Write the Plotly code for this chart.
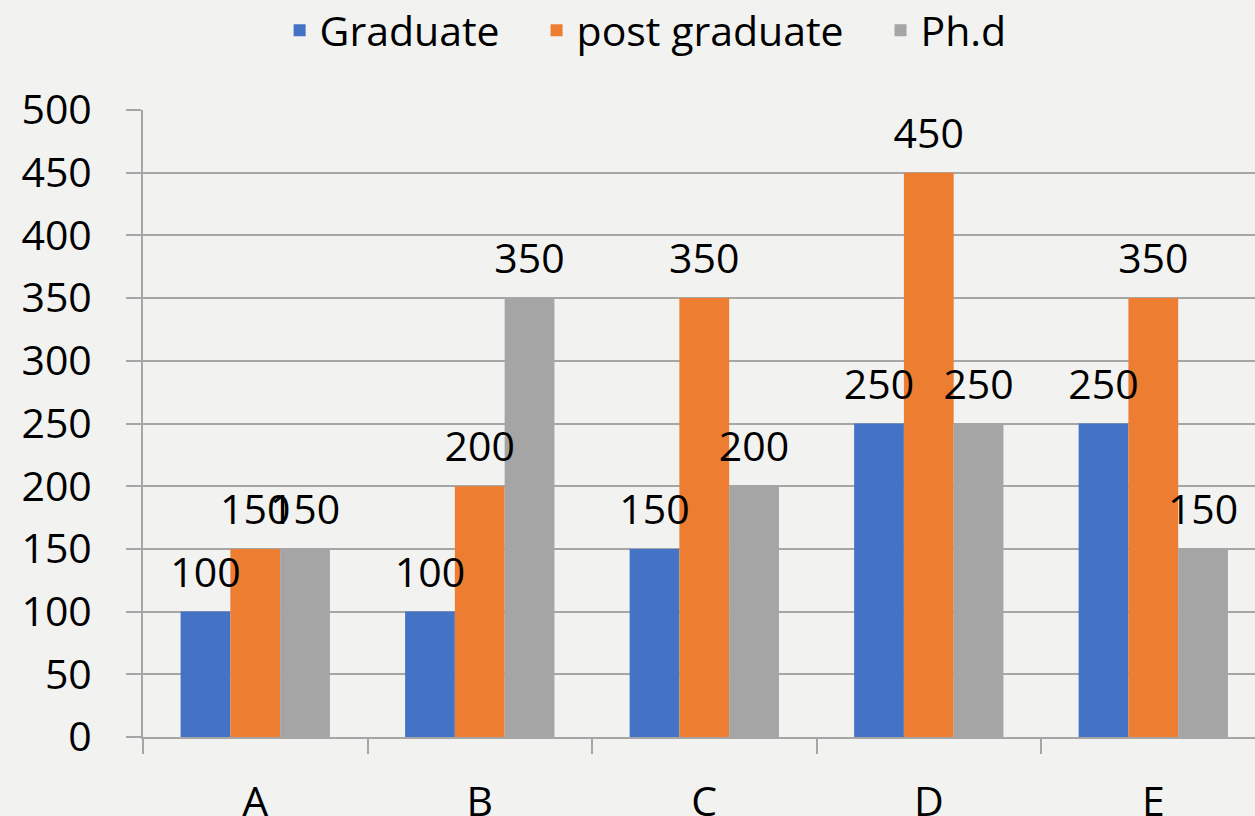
import plotly.graph_objects as go

categories = ["A", "B", "C", "D", "E"]
graduate = [100, 100, 150, 250, 250]
post_graduate = [150, 200, 350, 450, 350]
phd = [150, 350, 200, 250, 150]

series = [
    ("Graduate", graduate, "#4472C4"),
    ("post graduate", post_graduate, "#ED7D31"),
    ("Ph.d", phd, "#A5A5A5"),
]

FONT = "Open Sans"
FS = 41
PAD = "\u00a0\u00a0\u00a0"
fig = go.Figure()
for i, (name, vals, color) in enumerate(series):
    fig.add_trace(go.Bar(
        name=name + (PAD if i < len(series) - 1 else ""), x=categories, y=vals,
        marker_color=color, marker_line_width=0,
        offsetgroup=str(i), alignmentgroup="g",
    ))
for i, (name, vals, color) in enumerate(series):
    fig.add_trace(go.Scatter(
        x=categories, y=vals, mode="markers+text",
        text=[str(v) for v in vals], textposition="top center",
        textfont=dict(size=FS, color="black", family=FONT),
        marker=dict(size=22, opacity=0),
        offsetgroup=str(i), alignmentgroup="g",
        showlegend=False, hoverinfo="skip", cliponaxis=False,
    ))

bg = "#F2F2F0"
fig.update_layout(
    width=1255, height=816,
    paper_bgcolor=bg, plot_bgcolor=bg,
    barmode="group", bargap=0.335, bargroupgap=0,
    scattermode="group", scattergap=0.335,
    margin=dict(l=143, r=0, t=110, b=79, autoexpand=False),
    font=dict(family=FONT, size=FS, color="black"),
    legend=dict(orientation="h", x=0.452, xanchor="center", y=1.18, yref="paper",
                yanchor="top", font=dict(size=FS), itemwidth=30,
                bgcolor="rgba(0,0,0,0)"),
    showlegend=True,
)
fig.update_yaxes(
    range=[0, 500], dtick=50, showgrid=True, gridcolor="#A6A6A6", gridwidth=2,
    showline=True, linecolor="#A6A6A6", linewidth=2,
    ticks="outside", ticklen=15, tickcolor="#A6A6A6", tickwidth=2,
    zeroline=False, tickfont=dict(size=FS), ticklabelstandoff=26, automargin=False,
)
fig.update_xaxes(
    range=[-0.5, 4.453], showgrid=False, showline=True, linecolor="#A6A6A6", linewidth=2,
    ticks="outside", tickson="boundaries", ticklen=15, tickcolor="#A6A6A6", tickwidth=2,
    tickfont=dict(size=FS), ticklabelstandoff=28, automargin=False,
)
fig.write_html(
    "out.html",
    config={"displayModeBar": False},
    post_script="document.body.style.margin='0';document.body.style.background='#F2F2F0';document.body.style.overflow='hidden';",
)
